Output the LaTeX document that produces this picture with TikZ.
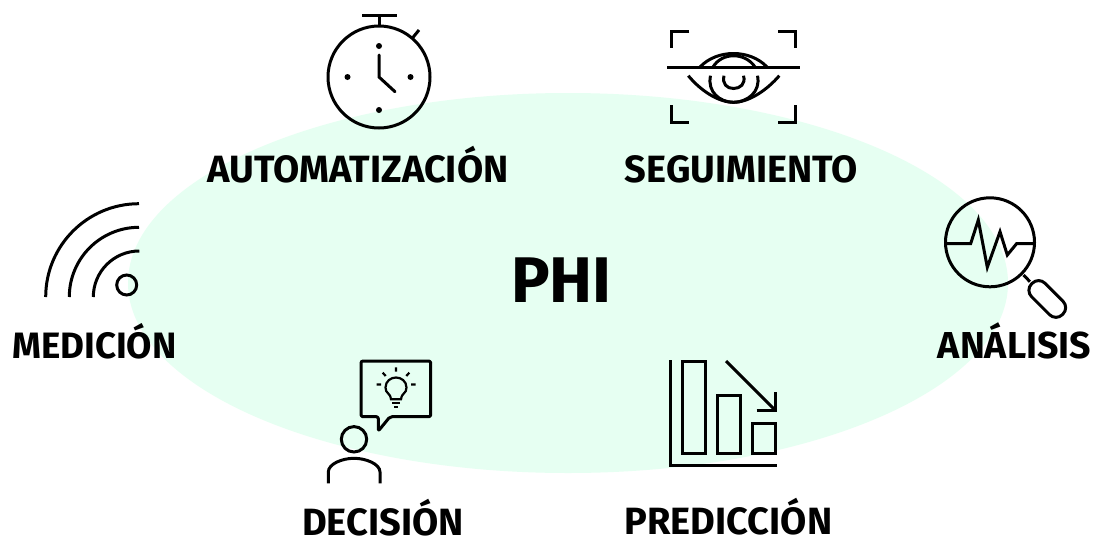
\documentclass[tikz,border=0pt]{standalone}
\usepackage{fontspec}
\setmainfont{Fira Sans}
\definecolor{blobgreen}{HTML}{E6FFF2}
\tikzset{
  x=1pt,y=-1pt,
  icon/.style={draw=black,line width=3pt,fill=none},
  thinicon/.style={draw=black,line width=2.2pt,fill=none},
  dotmark/.style={fill=black,draw=none},
  lab/.style={font=\fontsize{38}{38}\selectfont\bfseries,anchor=base,inner sep=0pt},
}
\begin{document}
\begin{tikzpicture}
\useasboundingbox (0,0) rectangle (1094,536);
\fill[white] (0,0) rectangle (1094,536);
\fill[blobgreen] (568,283) ellipse [x radius=440,y radius=190];
% labels
\node[lab] (phi) at (561.3,302.7) {\fontsize{64.5}{64.5}\selectfont PHI};
\node[lab] (auto) at (358,182.5) {AUTOMATIZACIÓN};
\node[lab] (seg) at (741.5,182.5) {SEGUIMIENTO};
\node[lab] (med) at (94.5,358.5) {\fontsize{36.7}{37}\selectfont MEDICIÓN};
\node[lab] (ana) at (1014.5,358.5) {\fontsize{37.5}{38}\selectfont ANÁLISIS};
\node[lab] (dec) at (383,535) {DECISIÓN};
\node[lab] (pre) at (728.5,534) {PREDICCIÓN};
% stopwatch
\draw[icon] (379,77) circle [radius=51];
\draw[icon] (362,15) -- (397,15) (379,15) -- (379,26);
\draw[icon] (411.7,39) -- (419,30);
\foreach \p in {(379,46),(379,110),(347.5,77),(410.5,77)} \fill[dotmark] \p circle [radius=3];
\draw[icon,line cap=round] (379,55) -- (379,77) -- (395,91.7);
% eye
\draw[icon] (689.3,31.7) -- (671.7,31.7) -- (671.7,48.3);
\draw[icon] (778.3,31.7) -- (795.7,31.7) -- (795.7,48.3);
\draw[icon] (671.7,105) -- (671.7,122.3) -- (689.3,122.3);
\draw[icon] (778.3,122.3) -- (795.7,122.3) -- (795.7,105);
\draw[icon] (667.3,67) -- (800,67);
\draw[icon] (700,67) .. controls (717,49) and (750,49) .. (767,67);
\draw[icon] (713,67) .. controls (722,52) and (745,52) .. (755,67);
\draw[icon] (688.3,75.7) .. controls (700,90) and (718,102.3) .. (733.5,102.3) .. controls (749,102.3) and (767,90) .. (779.3,75.7);
\draw[icon] (710.5,75.7) .. controls (707,92) and (720,102.3) .. (733.5,102.3) .. controls (747,102.3) and (761,92) .. (757.5,75.7);
\draw[icon] (724,75.7) .. controls (722,84) and (727,88.5) .. (733.5,88.5) .. controls (740,88.5) and (746,84) .. (743.5,75.7);
% magnifier
\draw[icon] (990,242.3) circle [radius=44.5];
\draw[icon,line join=miter] (946,243.5) -- (970.7,243.5) -- (978.3,220) -- (987.3,267.3) -- (1000,231.7) -- (1007.3,255) -- (1016.7,243.5) -- (1034,243.5);
\draw[icon] (1023.5,275) -- (1030,281.7);
\draw[icon,rotate around={-45:(1047.3,299)},rounded corners=9pt] (1025.5,289.5) rectangle (1069,308.5);
% signal
\draw[icon] (45.7,297) arc [start angle=180,end angle=270,radius=93.3];
\draw[icon] (69.3,297) arc [start angle=180,end angle=270,radius=69.7];
\draw[icon] (93.3,297) arc [start angle=180,end angle=270,radius=46];
\draw[icon] (126.7,285) circle [radius=10];
% person
\draw[icon,rounded corners=2pt,line join=round] (378.3,416.7) -- (361,416.7) -- (361,361) -- (430.7,361) -- (430.7,416.7) -- (390,416.7) -- (378.3,431) -- cycle;
\draw[icon] (354,439.3) circle [radius=12.7];
\draw[icon] (328.3,483.3) -- (328.3,472) .. controls (328.3,464) and (342,458.3) .. (354,458.3) .. controls (366,458.3) and (380,464) .. (380,472) -- (380,483.3);
\draw[thinicon] (391,399.3) .. controls (390,392) and (385.5,394) .. (385.5,387.5) .. controls (385.5,381) and (391,377.5) .. (396,377.5) .. controls (401,377.5) and (406.5,381) .. (406.5,387.5) .. controls (406.5,394) and (402,392) .. (401,399.3) -- cycle;
\draw[thinicon] (392,403.3) -- (400,403.3) (394,407.3) -- (398,407.3);
\draw[thinicon] (396,367.3) -- (396,371.7) (382.7,372.7) -- (385.7,376) (409.3,372.7) -- (406.3,376) (376.5,384.5) -- (381,384.5) (411,384.5) -- (415.5,384.5);
% bars
\draw[icon] (670.7,360) -- (670.7,465.7) -- (776.7,465.7);
\draw[icon] (682.7,361) rectangle (705.7,453.3);
\draw[icon] (717.7,395) rectangle (740.7,453.3);
\draw[icon] (752.3,423.3) rectangle (775.7,453.3);
\draw[icon] (726,361) -- (775,410);
\draw[icon] (756.7,410) -- (775,410) -- (775,391.7);
\end{tikzpicture}
\end{document}
